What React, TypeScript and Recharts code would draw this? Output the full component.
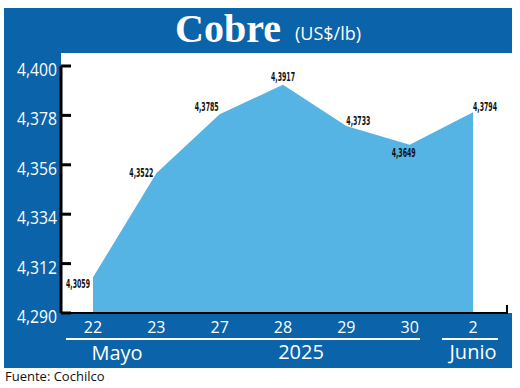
import { AreaChart, Area, XAxis, YAxis } from 'recharts'

// Cobre (US$/lb), Cochilco
const days = ['22', '23', '27', '28', '29', '30', '2']
const prices = [4.3059, 4.3522, 4.3785, 4.3917, 4.3733, 4.3649, 4.3794]
const yTicks = [4.29, 4.312, 4.334, 4.356, 4.378, 4.4]

// where each value label sits relative to its point
const labelOffsets = [
  [-15, 7],
  [-15, 0],
  [-13, -7],
  [0, -8],
  [12, -5],
  [-6, 8],
  [12, -5],
]

const data = days.map((day, i) => ({ day, price: prices[i] }))

const BLUE = '#0b63a9'
const AREA = '#55b4e4'
const SANS = "'Open Sans', 'Noto Sans', sans-serif"
const NARROW = "'Liberation Sans Narrow', 'DejaVu Sans Condensed', sans-serif"

const comma = (v: number, digits: number) => v.toFixed(digits).replace('.', ',')

function YTick({ x, y, payload }: any) {
  return (
    <g>
      <line x1={x} y1={y} x2={x + 10} y2={y} stroke="#000" strokeWidth={3} />
      <text
        x={x - 4}
        y={y + 10}
        textAnchor="end"
        fill="#fff"
        fontFamily={SANS}
        fontSize={18}
        textLength={40}
        lengthAdjust="spacingAndGlyphs"
      >
        {comma(payload.value, 3)}
      </text>
    </g>
  )
}

function XTick({ x, y, payload }: any) {
  return (
    <text x={x} y={y + 20} textAnchor="middle" fill="#fff" fontFamily={SANS} fontSize={16}>
      {payload.value}
    </text>
  )
}

function ValueLabel({ x, y, value, index }: any) {
  const [dx, dy] = labelOffsets[index] ?? [0, -8]
  return (
    <text
      x={x + dx}
      y={y + dy + 4}
      textAnchor="middle"
      fill="#111"
      fontFamily={NARROW}
      fontWeight="bold"
      fontSize={12}
      textLength={24}
      lengthAdjust="spacingAndGlyphs"
    >
      {comma(value, 4)}
    </text>
  )
}

export default function App() {
  return (
    <div style={{ position: 'absolute', left: 0, top: 0, width: 520, height: 388, background: '#fff' }}>
      <div style={{ position: 'absolute', left: 4, top: 8, width: 508, height: 360, background: BLUE }} />
      <div style={{ position: 'absolute', left: 61, top: 53, width: 451, height: 260, background: '#fff' }} />
      <div style={{ position: 'absolute', left: 0, top: 0 }}>
        <AreaChart width={520} height={388} data={data} margin={{ top: 66, right: 13, bottom: 0, left: 0 }}>
          <XAxis
            dataKey="day"
            height={75}
            padding={{ left: 32, right: 34 }}
            axisLine={{ stroke: '#000', strokeWidth: 2 }}
            tickLine={false}
            tickSize={0}
            tickMargin={0}
            tick={<XTick />}
            interval={0}
          />
          <YAxis
            width={61}
            domain={[4.29, 4.4]}
            ticks={yTicks}
            axisLine={{ stroke: '#000', strokeWidth: 3 }}
            tickLine={false}
            tickSize={0}
            tickMargin={0}
            tick={<YTick />}
            interval={0}
          />
          <Area
            dataKey="price"
            type="linear"
            stroke="none"
            fill={AREA}
            fillOpacity={1}
            dot={false}
            activeDot={false}
            isAnimationActive={false}
            label={(props: any) => <ValueLabel {...props} />}
          />
        </AreaChart>
      </div>
      <svg width={520} height={388} style={{ position: 'absolute', left: 0, top: 0, pointerEvents: 'none' }}>
        <text x={175} y={42} fill="#fff" fontFamily="'Liberation Serif', serif" fontWeight="bold" fontSize={40}>
          Cobre
        </text>
        <text x={295} y={40} fill="#fff" fontFamily={SANS} fontSize={18}>
          (US$/lb)
        </text>
        <line x1={507} y1={305} x2={507} y2={314} stroke="#000" strokeWidth={2} />
        <line x1={66} y1={339} x2={420} y2={339} stroke="#fff" strokeWidth={2} />
        <line x1={442} y1={339} x2={498} y2={339} stroke="#fff" strokeWidth={2} />
        <text x={117} y={360} textAnchor="middle" fill="#fff" fontFamily={SANS} fontSize={20}>
          Mayo
        </text>
        <text x={301} y={359} textAnchor="middle" fill="#fff" fontFamily={SANS} fontSize={20}>
          2025
        </text>
        <text x={473} y={359} textAnchor="middle" fill="#fff" fontFamily={SANS} fontSize={20}>
          Junio
        </text>
        <text x={5} y={381} fill="#111" fontFamily={SANS} fontSize={13}>
          Fuente: Cochilco
        </text>
      </svg>
    </div>
  )
}
